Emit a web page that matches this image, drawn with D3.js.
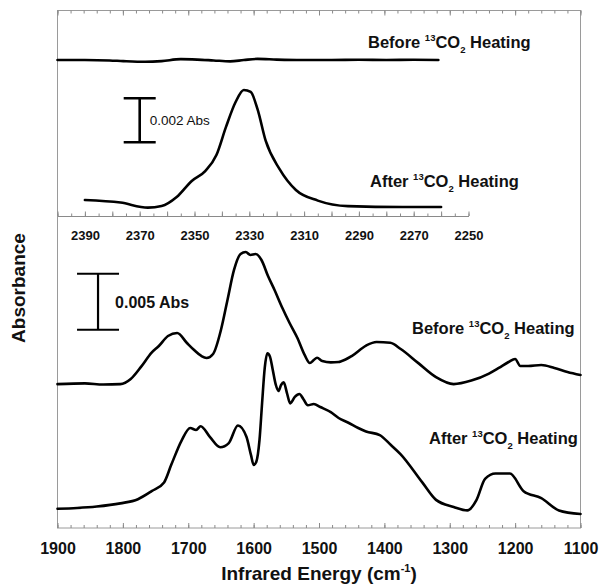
<!DOCTYPE html>
<html>
<head>
<meta charset="utf-8">
<script src="https://cdn.jsdelivr.net/npm/d3@7"></script>
<style>
  body { margin: 0; background: #fff; }
  svg { display: block; }
  text { font-family: "Liberation Sans", Arial, Helvetica, sans-serif; }
</style>
</head>
<body>
<svg id="chart" width="602" height="586"></svg>
<script>
// Lower region: 1900-1100 cm-1 spectra, absorbance in mAbs (curves stacked with offsets)
const mainBeforeWn  = [1900,1858,1830,1804,1788,1772,1756,1745,1731,1717,1702,1691,1680,1672,1662,1650,1640,1630,1620,1612,1605,1597,1588,1578,1568,1556,1545,1533,1522,1514,1508,1503,1495,1482,1470,1466,1450,1428,1412,1391,1375,1348,1321,1294,1267,1240,1225,1210,1200,1192,1180,1160,1140,1120,1100];
const mainBeforeAbs = [12.85,12.91,12.81,12.85,13.31,14.41,15.66,16.25,17.14,17.41,16.52,15.89,15.36,15.18,15.54,17.68,20.36,23.04,24.46,24.64,24.38,24.46,23.93,22.5,21.25,19.64,18.3,16.96,15.45,14.73,15.0,15.2,14.91,14.79,14.82,14.88,15.35,16.29,16.61,16.54,15.98,14.72,13.47,12.85,13.16,13.79,14.29,14.82,15.09,14.46,14.46,14.55,14.29,13.93,13.66];

const mainAfterWn  = [1900,1870,1840,1804,1777,1756,1737,1726,1710,1697,1688,1681,1667,1651,1638,1624,1611,1604,1600,1596,1591,1587,1583,1579,1575,1571,1566,1562,1558,1554,1549,1544,1537,1530,1524,1517,1508,1498,1482,1470,1455,1440,1428,1407,1390,1375,1342,1321,1294,1273,1259,1246,1230,1208,1187,1160,1133,1100];
const mainAfterAbs = [1.72,1.79,1.92,2.2,2.57,3.29,4.07,5.64,7.83,8.93,8.75,9.09,8.14,7.21,7.58,9.15,8.14,6.5,5.63,5.9,7.86,11.2,14.3,15.6,15.3,14.2,12.77,12.23,12.77,13.0,12.05,11.13,11.7,11.96,11.52,10.96,11.07,10.8,10.34,9.82,9.4,8.93,8.62,8.3,7.41,6.58,4.07,2.51,1.88,1.57,2.51,4.38,4.86,4.86,3.29,2.66,1.57,1.25];

// Upper region: 13CO2 stretch, 2400-2250 cm-1, absorbance in mAbs
const insetBeforeWn  = [2400,2390,2381,2376,2368,2362,2355,2349,2343,2337,2332,2327,2320,2311,2300,2290,2280,2270,2261];
const insetBeforeAbs = [7.09,7.09,7.07,7.04,7.01,7.04,7.13,7.11,7.07,7.03,7.09,7.14,7.11,7.09,7.09,7.10,7.09,7.10,7.09];

const insetAfterWn  = [2390,2377,2367,2362,2356.5,2351,2346,2342,2338.5,2335,2332,2329.5,2327,2324,2319,2313,2305,2294,2274,2260];
const insetAfterAbs = [0.73,0.61,0.38,0.45,0.86,1.59,2.05,2.77,4.05,5.18,5.73,5.64,4.86,3.41,2.14,1.18,0.70,0.45,0.41,0.41];

// Axis ticks
const mainTickLabels  = [1900,1800,1700,1600,1500,1400,1300,1200,1100];
const insetTickLabels = [2390,2370,2350,2330,2310,2290,2270,2250];

// Scale bars (mAbs) and curve labels
const mainBar  = { wn: 1838, top: 22.7, size: 5, text: "0.005 Abs" };
const insetBar = { wn: 2370, top: 5.35, size: 2, text: "0.002 Abs" };
const curveLabels = [
  { pre: "Before ", x: 368, y: 48 },
  { pre: "After ",  x: 370, y: 187 },
  { pre: "Before ", x: 412, y: 334 },
  { pre: "After ",  x: 429, y: 444 }
];

const svg = d3.select("#chart");
const L = 57.5, R = 580.5, T = 10.5, B = 528;

const x  = d3.scaleLinear().domain([1900, 1100]).range([L, R]);
const y  = d3.scaleLinear().domain([0, 46]).range([B, B - 46 * 11.2]);
const xi = d3.scaleLinear().domain([2400, 2250]).range([L, L + 150 * 2.74]);
const yi = d3.scaleLinear().domain([0, 9]).range([216, 216 - 9 * 22]);

const tickColor = "#8a8a8a";
const intFmt = d3.format("d");

// frame
svg.append("rect")
  .attr("x", L).attr("y", T).attr("width", R - L).attr("height", B - T)
  .attr("fill", "none").attr("stroke", "#9a9a9a").attr("stroke-width", 1);

function styleAxis(g) {
  g.select(".domain").remove();
  g.selectAll(".tick line").attr("stroke", tickColor);
}

// bottom axis: minor + major ticks pointing inward
svg.append("g").attr("transform", `translate(0,${B})`)
  .call(d3.axisBottom(x).tickValues(d3.range(1900, 1099, -20)).tickSize(-3).tickFormat(""))
  .call(styleAxis);
svg.append("g").attr("transform", `translate(0,${B})`)
  .call(d3.axisBottom(x).tickValues(mainTickLabels).tickSize(-5).tickPadding(14.6).tickFormat(intFmt))
  .call(styleAxis)
  .call(g => g.selectAll("text").attr("font-size", 16).attr("font-weight", "bold").attr("fill", "#111"));

// top axis ticks
svg.append("g").attr("transform", `translate(0,${T})`)
  .call(d3.axisTop(x).tickValues(d3.range(1900, 1099, -20)).tickSize(-3).tickFormat(""))
  .call(styleAxis);
svg.append("g").attr("transform", `translate(0,${T})`)
  .call(d3.axisTop(x).tickValues(mainTickLabels).tickSize(-5).tickFormat(""))
  .call(styleAxis);

// inset axis
const insetAxisY = yi(0);
svg.append("g").attr("transform", `translate(0,${insetAxisY})`)
  .call(d3.axisBottom(xi).tickValues(d3.range(2400, 2249, -5)).tickSize(-2.5).tickFormat("").tickSizeOuter(0))
  .call(g => g.select(".domain").attr("stroke", tickColor))
  .call(g => g.selectAll(".tick line").attr("stroke", tickColor));
svg.append("g").attr("transform", `translate(0,${insetAxisY})`)
  .call(d3.axisBottom(xi).tickValues(d3.range(2400, 2249, -10)).tickSize(-4.5).tickFormat(""))
  .call(styleAxis);
svg.append("g").attr("transform", `translate(0,${insetAxisY})`)
  .call(d3.axisBottom(xi).tickValues(insetTickLabels).tickSize(0).tickPadding(14.8).tickFormat(intFmt))
  .call(styleAxis)
  .call(g => g.selectAll("text").attr("font-size", 13).attr("font-weight", "bold").attr("fill", "#111"));

// spectra
function drawSpectrum(wn, abs, sx, sy) {
  const pts = wn.map((w, i) => [w, abs[i]]);
  const line = d3.line().x(d => sx(d[0])).y(d => sy(d[1])).curve(d3.curveMonotoneX);
  svg.append("path").datum(pts)
    .attr("d", line)
    .attr("fill", "none").attr("stroke", "#000")
    .attr("stroke-width", 2.6).attr("stroke-linejoin", "round").attr("stroke-linecap", "round");
}
drawSpectrum(mainBeforeWn, mainBeforeAbs, x, y);
drawSpectrum(mainAfterWn, mainAfterAbs, x, y);
drawSpectrum(insetBeforeWn, insetBeforeAbs, xi, yi);
drawSpectrum(insetAfterWn, insetAfterAbs, xi, yi);

// scale bars
function drawBar(bar, sx, sy, half, sw, textOpts) {
  const cx = sx(bar.wn), y0 = sy(bar.top), y1 = sy(bar.top - bar.size);
  const g = svg.append("g").attr("stroke", "#000").attr("stroke-width", sw);
  g.append("line").attr("x1", cx - half).attr("x2", cx + half).attr("y1", y0).attr("y2", y0);
  g.append("line").attr("x1", cx - half).attr("x2", cx + half).attr("y1", y1).attr("y2", y1);
  g.append("line").attr("x1", cx).attr("x2", cx).attr("y1", y0).attr("y2", y1);
  svg.append("text")
    .attr("x", cx + textOpts.dx).attr("y", (y0 + y1) / 2).attr("dy", "0.36em")
    .attr("font-size", textOpts.size).attr("font-weight", textOpts.weight).attr("fill", "#111")
    .text(bar.text);
}
drawBar(mainBar, x, y, 21, 2.2, { dx: 17, size: 16, weight: "bold" });
drawBar(insetBar, xi, yi, 16, 2.6, { dx: 10, size: 13.5, weight: "normal" });

// curve labels: "<state> 13CO2 Heating"
curveLabels.forEach(lb => {
  const t = svg.append("text").attr("x", lb.x).attr("y", lb.y)
    .attr("font-size", 16.5).attr("font-weight", "bold").attr("fill", "#111");
  t.append("tspan").text(lb.pre);
  t.append("tspan").attr("font-size", 9.5).attr("dy", -7).text("13");
  t.append("tspan").attr("dy", 7).text("CO");
  t.append("tspan").attr("font-size", 9.5).attr("dy", 5).text("2");
  t.append("tspan").attr("dy", -5).text(" Heating");
});

// axis titles
const xt = svg.append("text").attr("x", (L + R) / 2).attr("y", 580)
  .attr("text-anchor", "middle").attr("font-size", 19).attr("font-weight", "bold").attr("fill", "#111");
xt.append("tspan").text("Infrared Energy (cm");
xt.append("tspan").attr("font-size", 11).attr("dy", -8).text("-1");
xt.append("tspan").attr("dy", 8).text(")");

svg.append("text")
  .attr("transform", "translate(25,288) rotate(-90)")
  .attr("text-anchor", "middle").attr("font-size", 19).attr("font-weight", "bold").attr("fill", "#111")
  .text("Absorbance");
</script>
</body>
</html>
